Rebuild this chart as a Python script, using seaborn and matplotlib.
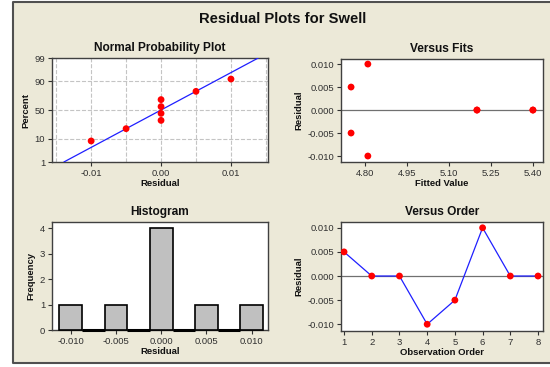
import numpy as np
import matplotlib
matplotlib.use('Agg')
import matplotlib.pyplot as plt
from matplotlib.patches import Rectangle
from matplotlib.lines import Line2D
import seaborn as sns
from statistics import NormalDist

# residuals in observation order
obs_order = [1, 2, 3, 4, 5, 6, 7, 8]
resid = [0.005, 0.0, 0.0, -0.010, -0.005, 0.010, 0.0, 0.0]
fitted = [4.75, 5.20, 5.20, 4.81, 4.75, 4.81, 5.40, 5.40]

# normal probability plot points (sorted residual, percent)
npp_resid = [-0.010, -0.005, 0.0, 0.0, 0.0, 0.0, 0.005, 0.010]
npp_pct = [8.3, 20.2, 32.1, 44.0, 56.0, 67.9, 79.8, 91.7]
pct_ticks = [1, 10, 50, 90, 99]

sns.set_style('white')
plt.rcParams['font.family'] = ['Liberation Sans', 'DejaVu Sans']
plt.rcParams['axes.edgecolor'] = '#404040'
plt.rcParams['xtick.color'] = '#303030'
plt.rcParams['ytick.color'] = '#303030'

RED = '#ff0000'
BLUE = '#1f1fff'
BG = '#ece9d8'

nd = NormalDist()
probit = np.vectorize(lambda p: nd.inv_cdf(min(max(p, 1e-6), 100 - 1e-6) / 100), otypes=[float])
probit_inv = np.vectorize(lambda z: nd.cdf(z) * 100, otypes=[float])

fig = plt.figure(figsize=(5.5, 3.67), dpi=100)
fig.patch.set_facecolor('white')
W, H = 550, 367
# beige panel with a frame on left, top and bottom only
x0, y_top, y_bot = 13 / W, 1 - 2 / H, 1 - 363 / H
fig.patches.append(Rectangle((x0, y_bot), 1.0, y_top - y_bot, transform=fig.transFigure,
                             facecolor=BG, edgecolor='none', zorder=-2))
fig.lines.append(Line2D([1.0, x0, x0, 1.0], [y_top, y_top, y_bot, y_bot],
                        transform=fig.transFigure, color='#505050', lw=1.5, zorder=-1))


def add_ax(l, t, r, b):
    a = fig.add_axes([l / W, 1 - b / H, (r - l) / W, (b - t) / H])
    a.set_facecolor('white')
    for s in a.spines.values():
        s.set_linewidth(1.0)
    a.tick_params(direction='out', length=3, width=0.8, labelsize=6.8, pad=2,
                  left=True, bottom=True)
    return a


def style(a, title, xlabel, ylabel):
    a.set_title(title, fontsize=8.6, fontweight='bold', pad=5, color='#111111')
    a.set_xlabel(xlabel, fontsize=6.8, fontweight='bold', labelpad=1, color='#111111')
    a.set_ylabel(ylabel, fontsize=6.8, fontweight='bold', labelpad=3, color='#111111')


fig.text(283 / W, 1 - 19 / H, 'Residual Plots for Swell', ha='center', va='center',
         fontsize=10.6, fontweight='bold', color='#111111')

# Normal probability plot
ax1 = add_ax(52, 58, 268, 162)
ax1.set_yscale('function', functions=(probit, probit_inv))
sd = np.std(resid, ddof=1)
line_pct = np.array([1, 99])
line_x = np.mean(resid) + sd * probit(line_pct)
ax1.plot(line_x, line_pct, color=BLUE, lw=0.9, zorder=3)
sns.scatterplot(x=npp_resid, y=npp_pct, color=RED, s=24, edgecolor='none', ax=ax1, zorder=4)
ax1.set_ylim(1, 99)
ax1.set_yticks(pct_ticks)
ax1.set_yticklabels([str(p) for p in pct_ticks])
ax1.yaxis.set_minor_locator(matplotlib.ticker.NullLocator())
ax1.set_xlim(-0.0156, 0.0153)
ax1.set_xticks([-0.01, 0.0, 0.01])
ax1.set_xticklabels(['-0.01', '0.00', '0.01'])
ax1.set_xticks(np.arange(-0.015, 0.0151, 0.005), minor=True)
ax1.tick_params(which='minor', length=0)
ax1.grid(True, which='both', axis='x', ls='--', color='#c4c4c4', lw=0.8)
ax1.grid(True, which='major', axis='y', ls='--', color='#c4c4c4', lw=0.8)
style(ax1, 'Normal Probability Plot', 'Residual', 'Percent')

# Versus fits
ax2 = add_ax(341, 59, 543, 162)
ax2.axhline(0, color='#707070', lw=0.9, zorder=1)
sns.scatterplot(x=fitted, y=resid, color=RED, s=24, edgecolor='none', ax=ax2, zorder=4)
ax2.set_xlim(4.714, 5.436)
ax2.set_xticks([4.80, 4.95, 5.10, 5.25, 5.40])
ax2.set_xticklabels(['4.80', '4.95', '5.10', '5.25', '5.40'])
ax2.set_ylim(-0.0113, 0.0111)
ax2.set_yticks([-0.010, -0.005, 0.0, 0.005, 0.010])
ax2.set_yticklabels(['-0.010', '-0.005', '0.000', '0.005', '0.010'])
style(ax2, 'Versus Fits', 'Fitted Value', 'Residual')

# Histogram
ax3 = add_ax(52, 222, 268, 330)
sns.histplot(x=resid, binwidth=0.0025, binrange=(-0.01125, 0.01125), color='#c0c0c0',
             edgecolor='black', linewidth=1.2, alpha=1, ax=ax3)
for p in ax3.patches:
    p.set_zorder(3)
    p.set_clip_on(False)
    if p.get_height() == 0:
        p.set_linewidth(2.2)
ax3.set_xlim(-0.01207, 0.0118)
ax3.set_ylim(0, 4.24)
ax3.set_xticks([-0.010, -0.005, 0.0, 0.005, 0.010])
ax3.set_xticklabels(['-0.010', '-0.005', '0.000', '0.005', '0.010'])
ax3.set_yticks([0, 1, 2, 3, 4])
style(ax3, 'Histogram', 'Residual', 'Frequency')

# Versus order
ax4 = add_ax(341, 222, 543, 331)
ax4.axhline(0, color='#707070', lw=0.9, zorder=1)
sns.lineplot(x=obs_order, y=resid, color=BLUE, lw=0.9, ax=ax4, zorder=3)
sns.scatterplot(x=obs_order, y=resid, color=RED, s=24, edgecolor='none', ax=ax4, zorder=4)
ax4.set_xlim(0.89, 8.18)
ax4.set_xticks(obs_order)
ax4.set_ylim(-0.0114, 0.0112)
ax4.set_yticks([-0.010, -0.005, 0.0, 0.005, 0.010])
ax4.set_yticklabels(['-0.010', '-0.005', '0.000', '0.005', '0.010'])
style(ax4, 'Versus Order', 'Observation Order', 'Residual')

fig.savefig('out.png', dpi=100, facecolor=fig.get_facecolor())
